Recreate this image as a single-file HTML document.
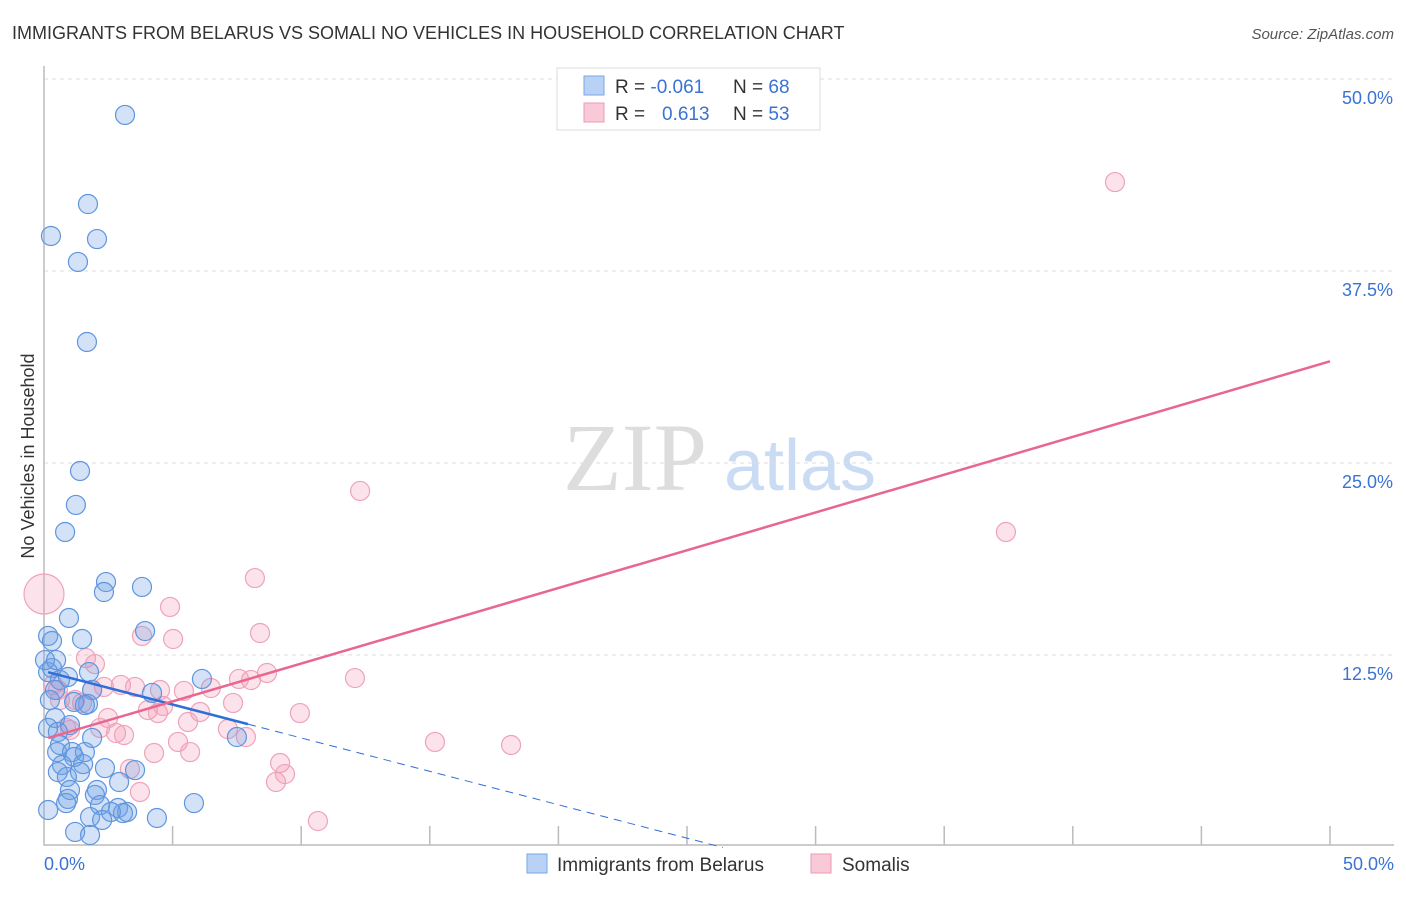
<!DOCTYPE html>
<html><head><meta charset="utf-8"><style>
body{margin:0;background:#fff;font-family:"Liberation Sans",sans-serif}
svg text{font-family:"Liberation Sans",sans-serif}
</style></head><body>
<svg id="c" width="1406" height="892" viewBox="0 0 1406 892" xmlns="http://www.w3.org/2000/svg">
<text x="12" y="39" font-size="18" fill="#333">IMMIGRANTS FROM BELARUS VS SOMALI NO VEHICLES IN HOUSEHOLD CORRELATION CHART</text>
<text x="1394" y="39" font-size="15" fill="#555" font-style="italic" text-anchor="end">Source: ZipAtlas.com</text>
<g>
<text x="635" y="490" font-size="96" fill="#ddd" text-anchor="middle" font-family="Liberation Serif" style="font-family:'Liberation Serif',serif">ZIP</text>
<text x="800" y="490" font-size="72" fill="#c9dcf3" text-anchor="middle">atlas</text>
</g>
<g id="grid"></g>
<g id="axes"></g>
<g id="marks"></g>
<text x="34" y="456" font-size="18" fill="#333" text-anchor="middle" transform="rotate(-90 34 456)">No Vehicles in Household</text>
<g>
<rect x="557" y="68" width="263" height="62" fill="#fff" stroke="#ddd"/>
<rect x="584" y="76" width="20" height="19" fill="#b8d2f5" stroke="#7aa6e6"/>
<text x="615" y="93" font-size="19" fill="#333">R = <tspan fill="#3a73d4">-0.061</tspan></text>
<text x="733" y="93" font-size="19" fill="#333">N = <tspan fill="#3a73d4">68</tspan></text>
<rect x="584" y="103" width="20" height="19" fill="#f9c9d7" stroke="#ee9ab5"/>
<text x="615" y="120" font-size="19" fill="#333">R = </text>
<text x="662" y="120" font-size="19" fill="#3a73d4">0.613</text>
<text x="733" y="120" font-size="19" fill="#333">N = <tspan fill="#3a73d4">53</tspan></text>
</g>
<g>
<rect x="527" y="854" width="20" height="19" fill="#b8d2f5" stroke="#7aa6e6"/>
<text x="557" y="871" font-size="19" fill="#333">Immigrants from Belarus</text>
<rect x="811" y="854" width="20" height="19" fill="#f9c9d7" stroke="#ee9ab5"/>
<text x="842" y="871" font-size="19" fill="#333">Somalis</text>
</g>
</svg>
<script>
const blueX=[3.15,1.71,0.27,2.06,1.32,1.67,1.40,1.24,0.82,2.41,2.33,3.81,0.97,0.16,0.31,1.48,3.93,6.14,1.75,0.31,0.16,0.62,0.93,4.20,0.43,1.87,1.71,1.17,1.59,7.50,0.43,1.01,0.16,0.54,1.87,0.62,0.51,1.09,1.59,1.17,0.70,1.52,2.37,3.54,0.54,1.40,0.89,2.92,2.06,1.01,1.98,0.93,0.86,2.18,2.88,5.83,3.23,3.07,2.60,1.79,2.26,4.39,1.21,1.79,0.16,0.23,0.04,0.47];
const blueY=[47.66,41.86,39.78,39.58,38.09,32.88,24.48,22.27,20.51,17.25,16.60,16.93,14.91,13.74,13.41,13.54,14.06,10.94,11.39,11.65,11.39,10.87,11.07,10.03,10.22,10.22,9.31,9.44,9.24,7.16,8.40,7.94,7.75,7.49,7.10,6.64,6.18,6.18,6.18,5.86,5.34,5.40,5.14,5.01,4.88,4.88,4.56,4.23,3.71,3.71,3.39,3.13,2.86,2.73,2.54,2.86,2.28,2.21,2.28,1.95,1.76,1.89,0.98,0.78,2.41,9.57,12.17,12.17];
const pinkX=[0,41.64,12.29,37.40,8.20,4.90,8.40,3.81,5.02,1.63,1.98,8.67,8.05,7.58,12.09,5.44,6.49,2.99,3.54,2.33,0.54,0.62,7.35,4.04,4.43,4.63,1.48,9.95,6.07,2.49,5.60,7.15,7.85,0.86,1.01,2.18,2.80,3.11,5.21,15.20,18.16,4.28,5.68,9.18,9.37,9.02,3.34,3.73,10.65,1.21,4.51,1.87,0.35];
const pinkY=[16.47,43.29,23.18,20.51,17.51,15.63,13.93,13.74,13.54,12.30,11.91,11.33,10.87,10.94,11.00,10.16,10.35,10.55,10.42,10.42,10.22,9.57,9.38,8.92,8.72,9.18,9.38,8.72,8.79,8.40,8.14,7.68,7.16,7.75,7.62,7.75,7.42,7.29,6.84,6.84,6.64,6.12,6.18,5.47,4.75,4.23,5.08,3.58,1.69,9.57,10.22,10.22,10.55];
const pinkR=[20];
const blueTrend=[11.45,-0.435];   // intercept, slope
const pinkTrend=[7.02,0.492];
const yTicks=[12.5,25.0,37.5,50.0];
const xTicks=[0,5,10,15,20,25,30,35,40,45,50];
const NS="http://www.w3.org/2000/svg";
const X0=44,X1=1330,Y0=847,Y1=79;
const sx=v=>X0+(X1-X0)*v/50, sy=v=>Y0-(Y0-Y1)*v/50;
function mk(t,a,p){const e=document.createElementNS(NS,t);for(const k in a)e.setAttribute(k,a[k]);p.appendChild(e);return e;}
const grid=document.getElementById('grid'),axes=document.getElementById('axes'),marks=document.getElementById('marks');
yTicks.forEach(v=>{
 const l=mk('line',{x1:X0,x2:1394,y1:sy(v),y2:sy(v),stroke:'#ddd','stroke-dasharray':'4,4'},grid);
 
 
 const t=mk('text',{x:1393,y:sy(v)+25,'font-size':18,fill:'#3a73d4','text-anchor':'end'},axes);
 t.textContent=v.toFixed(1)+'%';
 
 
});
const ax=mk('path',{d:`M${X0} 66 V845 H1394`,fill:'none',stroke:'#bbb','stroke-width':1.5},axes);


xTicks.forEach(v=>{
 if(v===0)return;
 const l=mk('line',{x1:sx(v),x2:sx(v),y1:826,y2:845,stroke:'#bbb','stroke-width':1.5},axes);
 
 
});
[[0,'start',44],[50,'end',1394]].forEach(([v,a,x])=>{
 const t=mk('text',{x:x,y:870,'font-size':18,fill:'#3a73d4','text-anchor':a},axes);
 t.textContent=v.toFixed(1)+'%';
 
 
});
pinkX.forEach((x,i)=>{
 const c=mk('circle',{cx:sx(x),cy:sy(pinkY[i]),r:i===0?pinkR[0]:9.5,fill:'rgba(245,150,180,0.28)',stroke:'#eea3bb','stroke-width':1.2},marks);
 
 
});
blueX.forEach((x,i)=>{
 const c=mk('circle',{cx:sx(x),cy:sy(blueY[i]),r:9.5,fill:'rgba(110,160,230,0.3)',stroke:'#5f95df','stroke-width':1.2},marks);
 
 
});
const bx0=0.16,bx1=7.93,bx2=26.4;
let l=mk('line',{x1:sx(bx0),y1:sy(blueTrend[0]+blueTrend[1]*bx0),x2:sx(bx1),y2:sy(blueTrend[0]+blueTrend[1]*bx1),stroke:'#2f6fd6','stroke-width':2.5},marks);


l=mk('line',{x1:sx(bx1),y1:sy(blueTrend[0]+blueTrend[1]*bx1),x2:sx(bx2),y2:sy(blueTrend[0]+blueTrend[1]*bx2),stroke:'#2f6fd6','stroke-width':1,'stroke-dasharray':'8,6'},marks);


l=mk('line',{x1:sx(0.16),y1:sy(pinkTrend[0]+pinkTrend[1]*0.16),x2:sx(50),y2:sy(pinkTrend[0]+pinkTrend[1]*50),stroke:'#e8678f','stroke-width':2.5},marks);


</script>
</body></html>
